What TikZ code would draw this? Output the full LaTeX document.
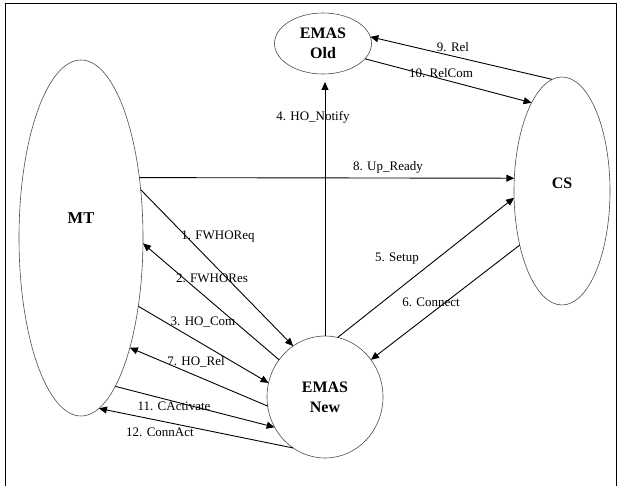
\documentclass[tikz,border=0pt]{standalone}
\usepackage{fontspec}
\setmainfont{Liberation Serif}
\usetikzlibrary{arrows.meta,shapes.geometric}
\tikzset{
  ent/.style={ellipse,draw=black!70,line width=0.6pt,inner sep=0pt,outer sep=0pt,
    font=\fontsize{16}{20}\selectfont\bfseries,align=center},
  msg/.style={line width=0.9pt,-{Triangle[length=8pt,width=7pt]}},
  lbl/.style={font=\fontsize{13}{15}\selectfont,inner sep=0pt}
}
\begin{document}
\begin{tikzpicture}[x=1pt,y=-1pt]
  \useasboundingbox (0,0) rectangle (621,486);
  \draw[line width=0.8pt] (5.5,490) -- (5.5,3.5) -- (616,3.5) -- (616,490);
  % entities
  \node[ent,minimum width=124pt,minimum height=356pt,
    label={[name=mttxt,yshift=20pt,font=\fontsize{16.5}{20}\selectfont\bfseries]center:MT}] (mt) at (81,238) {};
  \node[ent,minimum width=96pt,minimum height=228pt,
    label={[name=cstxt,yshift=8pt,font=\fontsize{16}{20}\selectfont\bfseries]center:CS}] (cs) at (562,191) {};
  \node[ent,minimum width=97pt,minimum height=61pt] (emasold) at (323,43.5) {EMAS\\Old};
  \node[ent,minimum width=116pt,minimum height=122pt] (emasnew) at (325,397) {EMAS\\New};
  % messages
  \foreach \from/\to in {mt.39/emasnew.122, emasnew.141/mt.-5, mt.-50/emasnew.166,
      emasnew.-171/mt.-66, mt.-77/emasnew.-149, emasnew.-122/mt.-84,
      mt.46/cs.165, emasnew.78/cs.-172, cs.-128/emasnew.39,
      cs.95/emasold.8, emasold.-20/cs.109}{
    \draw[msg] (\from) -- (\to);
  }
  \draw[msg,shorten >=8pt] (emasnew.90) -- (emasnew.90 |- emasold.south);
  % labels
  \foreach \nm/\x/\y/\txt in {l1/218/237/1. FWHOReq, l2/212/278/2. FWHORes,
      l3/203/322/3. HO\_Com, l4/313/117/4. HO\_Notify, l5/397/259/5. Setup,
      l6/431/302/6. Connect, l7/196/362/7. HO\_Rel, l8/388/167/8. Up\_Ready,
      l9/453/47/9. Rel, l10/441/73/10. RelCom, l11/174/406/11. CActivate,
      l12/160/432/12. ConnAct}{
    \node[lbl] (\nm) at (\x,\y) {\txt};
  }
\end{tikzpicture}
\end{document}
